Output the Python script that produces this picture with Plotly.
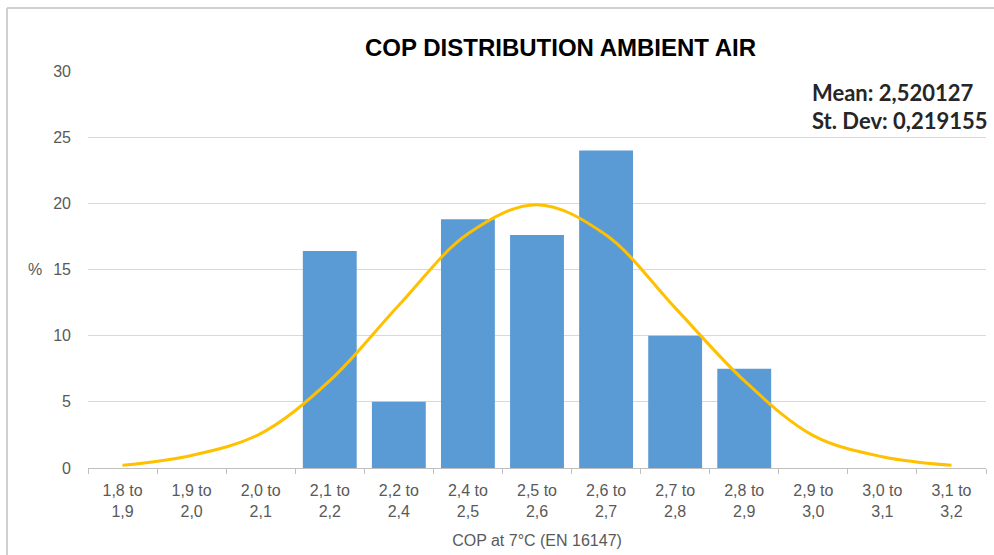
import plotly.graph_objects as go

categories = ["1,8 to<br>1,9", "1,9 to<br>2,0", "2,0 to<br>2,1", "2,1 to<br>2,2", "2,2 to<br>2,4",
              "2,4 to<br>2,5", "2,5 to<br>2,6", "2,6 to<br>2,7", "2,7 to<br>2,8", "2,8 to<br>2,9",
              "2,9 to<br>3,0", "3,0 to<br>3,1", "3,1 to<br>3,2"]
percent = [0, 0, 0, 16.4, 5.0, 18.8, 17.6, 24.0, 10.0, 7.5, 0, 0, 0]
normal_curve = [0.2, 0.95, 2.6, 6.6, 12.3, 17.7, 19.9, 17.6, 12.1, 6.6, 2.45, 0.85, 0.2]
y_ticks = [0, 5, 10, 15, 20, 25, 30]

title_text = "COP DISTRIBUTION AMBIENT AIR"
stats_lines = ["Mean: 2,520127", "St. Dev: 0,219155"]
x_title = "COP at 7°C (EN 16147)"

W, H = 994, 555
L, R, T, B = 88, 8, 71, 87
pw, ph = W - L - R, H - T - B

def px_x(p):
    return (p - L) / pw

def px_y(p):
    return (H - B - p) / ph

fig = go.Figure()
fig.add_trace(go.Bar(x=categories, y=percent, marker=dict(color="#5B9BD5", line=dict(width=0)),
                     showlegend=False))
fig.add_trace(go.Scatter(x=categories, y=normal_curve, mode="lines",
                         line=dict(color="#FFC000", width=3, shape="spline", smoothing=1.0),
                         showlegend=False))

axis_font = dict(family="Liberation Sans, Arial", size=16, color="#595959")

fig.update_layout(
    width=W, height=H,
    margin=dict(l=L, r=R, t=T, b=B),
    paper_bgcolor="white", plot_bgcolor="white",
    bargap=0.22,
    xaxis=dict(type="category", tickson="boundaries", ticks="outside", ticklen=5,
               tickcolor="#BFBFBF", showline=True, linecolor="#BFBFBF", linewidth=1,
               showgrid=False, tickfont=axis_font, fixedrange=True, ticklabelstandoff=8,
               title=dict(text=x_title, font=axis_font, standoff=15)),
    yaxis=dict(range=[0, 30], tickvals=y_ticks, showgrid=True, gridcolor="#D9D9D9",
               gridwidth=1, zeroline=False, showline=False, ticks="", ticklabelstandoff=16,
               tickfont=axis_font),
    font=dict(family="Liberation Sans, Arial"),
)

annotations = [
    dict(text="<b>" + title_text + "</b>", xref="paper", yref="paper",
         x=px_x(560), y=px_y(47), xanchor="center", yanchor="middle", showarrow=False,
         font=dict(family="Liberation Sans, Arial", size=24, color="#000000")),
    dict(text="%", xref="paper", yref="y", x=px_x(35), y=15, xanchor="center",
         yanchor="middle", showarrow=False, font=axis_font),
]
for i, line in enumerate(stats_lines):
    annotations.append(dict(text="<b>" + line + "</b>", xref="paper", yref="paper",
                            x=px_x(810), y=px_y(92 + 28 * i), xanchor="left", yanchor="middle",
                            showarrow=False,
                            font=dict(family="Lato, Open Sans", size=22, color="#262626")))
fig.update_layout(annotations=annotations)

# chart frame (top and left border)
fig.add_shape(type="line", xref="paper", yref="paper", x0=px_x(7), x1=px_x(W + 5),
              y0=px_y(8), y1=px_y(8), line=dict(color="#D0D0D0", width=2))
fig.add_shape(type="line", xref="paper", yref="paper", x0=px_x(7), x1=px_x(7),
              y0=px_y(8), y1=px_y(H + 5), line=dict(color="#D0D0D0", width=2))

fig.write_html("out.html", config={"displayModeBar": False})
